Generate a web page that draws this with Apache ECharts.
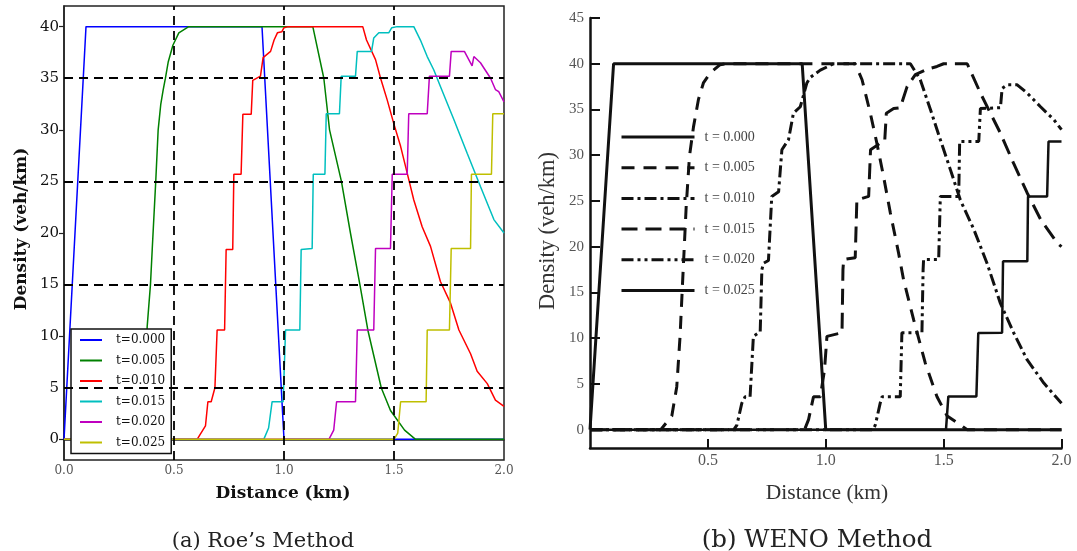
<!DOCTYPE html>
<html><head><meta charset="utf-8">
<script src="https://cdn.jsdelivr.net/npm/echarts@6/dist/echarts.min.js"></script>
<style>html,body{margin:0;padding:0;background:#fff}#c{width:1077px;height:551px}</style>
</head><body><div id="c"></div>
<script>
// ---------- Data: (a) Roe's Method ----------
const roeNames = ['t=0.000','t=0.005','t=0.010','t=0.015','t=0.020','t=0.025'];
const roeColors = ['#0000ff','#008000','#ff0000','#00bfbf','#bf00bf','#bfbf00'];
const roe000 = [[0,0],[0.1,40],[0.9,40],[1.0,0],[2.0,0]];
const roe005 = [[0,0],[0.35,0],[0.36,1],[0.37,4.5],[0.378,10.9],[0.393,15],[0.401,18.4],[0.417,25],[0.428,30],[0.44,32.5],[0.451,33.9],[0.461,35],[0.474,36.6],[0.495,38.2],[0.522,39.4],[0.567,40],[1.131,40],[1.181,35],[1.207,30],[1.261,25],[1.302,20],[1.345,15],[1.381,10.6],[1.442,5],[1.484,2.8],[1.548,0.9],[1.598,0],[2.0,0]];
const roe010 = [[0,0],[0.605,0],[0.643,1.3],[0.654,3.65],[0.669,3.65],[0.686,5],[0.696,10.6],[0.73,10.6],[0.737,18.4],[0.767,18.4],[0.772,25.7],[0.805,25.7],[0.813,31.5],[0.851,31.5],[0.858,34.8],[0.893,35.2],[0.905,37],[0.939,37.6],[0.955,38.7],[0.97,39.4],[0.99,39.5],[1.0,39.9],[1.02,40],[1.358,40],[1.375,38.7],[1.416,36.8],[1.439,35],[1.469,32.9],[1.499,30.6],[1.53,28.4],[1.56,25.8],[1.59,23.2],[1.628,20.6],[1.666,18.7],[1.711,15.3],[1.757,13.2],[1.795,10.6],[1.848,8.3],[1.878,6.6],[1.924,5.4],[1.961,3.8],[2.0,3.2]];
const roe015 = [[0,0],[0.908,0],[0.93,1.1],[0.946,3.65],[0.996,3.65],[1.007,10.6],[1.072,10.6],[1.078,18.4],[1.128,18.5],[1.133,25.7],[1.186,25.7],[1.192,31.55],[1.252,31.55],[1.26,35.2],[1.325,35.2],[1.333,37.6],[1.398,37.6],[1.408,38.9],[1.431,39.4],[1.476,39.4],[1.49,39.9],[1.514,40],[1.59,40],[1.62,38.7],[1.651,37.1],[1.681,35.8],[1.711,34.2],[1.772,31],[1.833,27.7],[1.893,24.5],[1.954,21.3],[2.0,20]];
const roe020 = [[0,0],[1.204,0],[1.226,0.9],[1.239,3.65],[1.325,3.65],[1.333,10.6],[1.408,10.6],[1.416,18.5],[1.484,18.5],[1.492,25.7],[1.56,25.7],[1.567,31.55],[1.651,31.55],[1.661,35.2],[1.752,35.2],[1.76,37.6],[1.82,37.6],[1.855,36.2],[1.863,37.1],[1.893,36.5],[1.939,35],[1.961,33.9],[1.976,33.7],[2.0,32.7]];
const roe025 = [[0,0],[1.5,0],[1.517,0.6],[1.53,3.65],[1.646,3.65],[1.651,10.6],[1.752,10.6],[1.76,18.5],[1.848,18.5],[1.852,25.7],[1.943,25.7],[1.949,31.55],[2.0,31.55]];
const roeData = [roe000, roe005, roe010, roe015, roe020, roe025];

// ---------- Data: (b) WENO Method ----------
const wenoNames = ['t = 0.000','t = 0.005','t = 0.010','t = 0.015','t = 0.020','t = 0.025'];
const weno000 = [[0,0],[0.1,40],[0.9,40],[1.0,0],[2.0,0]];
const weno005 = [[0,0],[0.3,0],[0.347,1.5],[0.368,4.7],[0.382,10.2],[0.392,15.7],[0.408,24.4],[0.422,29.9],[0.439,33.1],[0.46,36.1],[0.481,37.9],[0.51,39],[0.552,39.9],[0.58,40],[1.125,40],[1.154,38.25],[1.189,34.6],[1.217,31.3],[1.245,27.7],[1.274,23.7],[1.309,19.3],[1.33,16.4],[1.373,12],[1.422,7.3],[1.472,3.6],[1.515,1.5],[1.578,0.4],[1.6,0],[2.0,0]];
const weno010 = [[0,0],[0.61,0],[0.623,0.5],[0.644,2.9],[0.658,3.6],[0.679,3.6],[0.693,10.2],[0.722,10.7],[0.729,17.5],[0.736,18.2],[0.757,18.5],[0.771,25.5],[0.8,26],[0.814,30.6],[0.842,31.7],[0.863,34.6],[0.892,35.3],[0.92,37.9],[0.934,38.5],[0.977,39.3],[1.033,40],[1.359,40],[1.401,38.25],[1.444,35],[1.486,31.7],[1.529,28.4],[1.571,25.1],[1.628,21.9],[1.684,18.2],[1.741,13.8],[1.797,10.6],[1.854,7.65],[1.925,5.1],[2.0,2.9]];
const weno015 = [[0,0],[0.91,0],[0.927,1.1],[0.948,3.6],[0.977,3.6],[0.995,6.6],[1.005,10.2],[1.069,10.6],[1.073,17.5],[1.076,18.6],[1.125,18.8],[1.132,25.1],[1.182,25.5],[1.19,30.6],[1.23,31.3],[1.25,31.5],[1.257,34.6],[1.288,35.1],[1.316,35.2],[1.345,37.5],[1.38,38.8],[1.43,39.4],[1.472,39.7],[1.5,40],[1.6,40],[1.656,36.8],[1.741,32.4],[1.797,29.1],[1.854,25.9],[1.911,23],[1.982,20.4],[2.0,20]];
const weno020 = [[0,0],[1.2,0],[1.21,0.5],[1.231,2.9],[1.239,3.6],[1.316,3.6],[1.323,10.6],[1.408,10.6],[1.413,17.5],[1.415,18.6],[1.479,18.6],[1.486,25.5],[1.564,25.5],[1.568,31.5],[1.649,31.5],[1.656,35.1],[1.741,35.2],[1.748,37.3],[1.769,37.7],[1.812,37.7],[1.854,36.8],[1.911,35.3],[1.967,33.9],[2.0,32.8]];
const weno025 = [[0,0],[1.51,0],[1.52,3.64],[1.639,3.64],[1.647,10.57],[1.748,10.6],[1.752,18.4],[1.855,18.4],[1.858,25.5],[1.939,25.5],[1.945,31.5],[2.0,31.5]];
const wenoData = [weno000, weno005, weno010, weno015, weno020, weno025];

// ---------- Tick values ----------
const roeYTicks = [0,5,10,15,20,25,30,35,40];
const roeYTicksRight = [0,10,20,30,40];
const roeGridY = [5,15,25,35];
const roeGridX = [0.5,1.0,1.5];
const wenoYTicks = [0,5,10,15,20,25,30,35,40,45];
const wenoXTicks = [0.5,1.0,1.5,2.0];

// ---------- Styles (not data) ----------
const wenoDash = ['solid',[13,9],[12,4,3,4],[16,8],[12,4,3,4,3,4],'solid'];
const wenoWidth = [3,3,3,3,3,2.5];

const chart = echarts.init(document.getElementById('c'));

const series = [];
series.push({
  type:'line', name:'grid', xAxisIndex:0, yAxisIndex:0, data:[], z:1, silent:true,
  markLine:{symbol:'none', silent:true, animation:false, label:{show:false},
    lineStyle:{color:'#000', width:1.8, type:[9,6]},
    data: roeGridY.map(v=>({yAxis:v})).concat(roeGridX.map(v=>({xAxis:v})))}
});
roeData.forEach((d,i)=>series.push({
  type:'line', name:roeNames[i], xAxisIndex:0, yAxisIndex:0, data:d, symbol:'none', z:2,
  lineStyle:{color:roeColors[i], width:1.5}, itemStyle:{color:roeColors[i]}
}));
wenoData.forEach((d,i)=>series.push({
  type:'line', name:wenoNames[i], xAxisIndex:1, yAxisIndex:2, data:d, symbol:'none', z:2,
  lineStyle:{color:'#111', width:wenoWidth[i], type:wenoDash[i]}, itemStyle:{color:'#111'}
}));

const serif = 'DejaVu Serif';
const times = 'Liberation Serif';

chart.setOption({
  animation:false,
  backgroundColor:'#fff',
  grid:[
    {left:64, top:6, width:440, height:454, show:true, borderColor:'#222', borderWidth:1.5},
    {left:590, top:18, width:471.5, height:430}
  ],
  xAxis:[
    {type:'value', gridIndex:0, min:0, max:2, interval:0.5,
     axisLine:{show:true, lineStyle:{color:'#222', width:1.5}},
     axisTick:{show:false},
     axisLabel:{color:'#555', fontFamily:serif, fontSize:12, margin:5, formatter:v=>v.toFixed(1)},
     splitLine:{show:false}},
    {type:'value', gridIndex:1, min:0, max:2,
     axisLine:{show:true, onZero:false, lineStyle:{color:'#111', width:2.5}},
     axisTick:{show:true, inside:true, length:9, customValues:wenoXTicks, lineStyle:{color:'#111', width:2}},
     axisLabel:{color:'#555', fontFamily:times, fontSize:16, margin:5, customValues:wenoXTicks, formatter:v=>v.toFixed(1)},
     splitLine:{show:false}}
  ],
  yAxis:[
    {type:'value', gridIndex:0, min:-2, max:42,
     axisLine:{show:true, onZero:false, lineStyle:{color:'#222', width:1.5}},
     axisTick:{show:false},
     axisLabel:{color:'#111', fontFamily:serif, fontSize:15, margin:5, customValues:roeYTicks},
     splitLine:{show:false}},
    {type:'value', gridIndex:0, min:-2, max:42, position:'right',
     axisLine:{show:false},
     axisTick:{show:true, inside:true, length:5, customValues:roeYTicksRight, lineStyle:{color:'#222', width:1.2}},
     axisLabel:{show:false},
     splitLine:{show:false}},
    {type:'value', gridIndex:1, min:-2, max:45,
     axisLine:{show:true, onZero:false, lineStyle:{color:'#111', width:2.5}},
     axisTick:{show:true, inside:true, length:10, customValues:wenoYTicks, lineStyle:{color:'#111', width:2}},
     axisLabel:{color:'#555', fontFamily:times, fontSize:15, margin:6, customValues:wenoYTicks},
     splitLine:{show:false}}
  ],
  legend:[
    {data:roeNames, orient:'vertical', left:71, top:329, backgroundColor:'#fff',
     borderColor:'#111', borderWidth:1.5, borderRadius:0, padding:[4,6,4,8],
     itemWidth:22, itemHeight:10, itemGap:6.5, selectedMode:false,
     itemStyle:{opacity:0}, lineStyle:{width:2},
     textStyle:{fontFamily:serif, fontSize:12, color:'#111', lineHeight:14, padding:[0,0,0,9]}},
    {data:wenoNames, orient:'vertical', left:620, top:130, padding:0,
     itemWidth:73, itemHeight:14, itemGap:16.7, selectedMode:false,
     itemStyle:{opacity:0}, lineStyle:{width:3},
     textStyle:{fontFamily:times, fontSize:14, color:'#444', lineHeight:14, padding:[0,0,0,5]}}
  ],
  graphic:[
    {type:'text', x:22, y:229, rotation:Math.PI/2, style:{text:'Density (veh/km)', font:'bold 17px "DejaVu Serif"', fill:'#111', align:'center', verticalAlign:'middle'}},
    {type:'text', x:283, y:494, style:{text:'Distance (km)', font:'bold 17px "DejaVu Serif"', fill:'#111', align:'center', verticalAlign:'middle'}},
    {type:'text', x:263, y:542, style:{text:'(a) Roe\u2019s Method', font:'21px "DejaVu Serif"', fill:'#222', align:'center', verticalAlign:'middle'}},
    {type:'text', x:548, y:231, rotation:Math.PI/2, style:{text:'Density (veh/km)', font:'22.5px "Liberation Serif"', fill:'#333', align:'center', verticalAlign:'middle'}},
    {type:'text', x:827, y:493, style:{text:'Distance (km)', font:'21.5px "Liberation Serif"', fill:'#333', align:'center', verticalAlign:'middle'}},
    {type:'text', x:817, y:541, style:{text:'(b) WENO Method', font:'24.5px "DejaVu Serif"', fill:'#222', align:'center', verticalAlign:'middle'}}
  ],
  series:series
});
</script>
</body></html>
